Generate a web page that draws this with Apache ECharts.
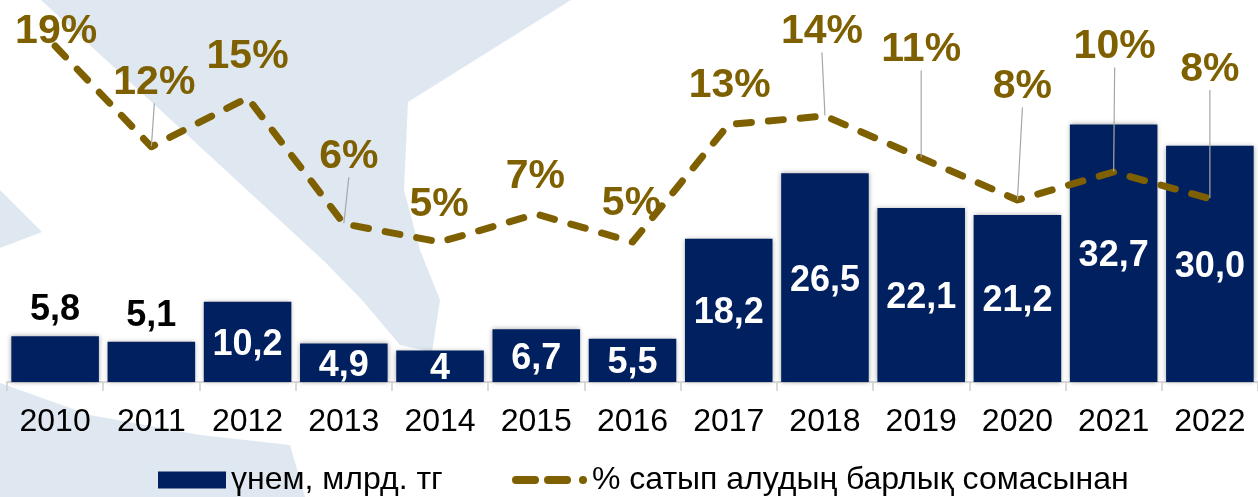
<!DOCTYPE html>
<html>
<head>
<meta charset="utf-8">
<script src="https://cdn.jsdelivr.net/npm/echarts@6/dist/echarts.min.js"></script>
<style>html,body{margin:0;padding:0;background:#fff}#c{width:1258px;height:497px}</style>
</head>
<body>
<div id="c"></div>
<script>
// ---- data ----
const years = ['2010','2011','2012','2013','2014','2015','2016','2017','2018','2019','2020','2021','2022'];
const savings = [5.8, 5.1, 10.2, 4.9, 4, 6.7, 5.5, 18.2, 26.5, 22.1, 21.2, 32.7, 30.0];
const savingsLabels = ['5,8','5,1','10,2','4,9','4','6,7','5,5','18,2','26,5','22,1','21,2','32,7','30,0'];
const sharePct = [19, 11.8, 15.3, 6.3, 5, 7, 5, 13.4, 14, 11, 8, 10, 8.1];
const seriesNames = ['үнем, млрд. тг', '% сатып алудың барлық сомасынан'];

// ---- layout helpers (not data) ----
const outsideBarLabelIdx = [0, 1];
const pctLabelShift = [[1,-14],[3,-64],[0,-41],[5,-67],[-1,-37],[-1,-37],[-1,-38],[1,-39],[-3,-84],[0,-108],[5,-113],[1,-125],[0,-129]];
const pctLeaderIdx = [1, 3, 8, 9, 10, 11, 12];

const FONT = "'Liberation Sans', Arial, sans-serif";
const NAVY = '#002060';
const OLIVE = '#7f6000';
const WM = '#dfe8f1';

const chart = echarts.init(document.getElementById('c'), null, {renderer: 'canvas'});

const barData = savings.map((v, i) => {
  const item = {value: v};
  if (outsideBarLabelIdx.includes(i)) {
    item.label = {position: 'top', color: '#000', distance: 8, offset: [0, 0]};
  }
  return item;
});

const lineData = sharePct.map((v, i) => {
  const item = {value: v};
  if (pctLeaderIdx.includes(i)) {
    item.labelLine = {show: true, lineStyle: {color: '#a6a6a6', width: 1.2}};
  }
  return item;
});

const option = {
  animation: false,
  backgroundColor: '#fff',
  graphic: {
    elements: [
      {type: 'polygon', z: -10, silent: true,
       shape: {points: [[41,0],[571,0],[408,102],[404,190],[420,250],[440,300],[432,352],[400,345],[362,300],[325,262]]},
       style: {fill: WM}},
      {type: 'polygon', z: -10, silent: true,
       shape: {points: [[0,383],[90,415],[200,435],[290,445],[305,497],[0,497]]},
       style: {fill: WM}},
      {type: 'polygon', z: -10, silent: true,
       shape: {points: [[0,190],[42,232],[0,248]]},
       style: {fill: WM}}
    ]
  },
  grid: {left: 7, right: -11, top: 4, bottom: 115, containLabel: false},
  legend: [
    {
      data: [{name: seriesNames[0], icon: 'rect', itemStyle: {color: NAVY, shadowBlur: 0}}],
      left: 153, top: 459, itemWidth: 68, itemHeight: 17, itemGap: 10,
      textStyle: {fontFamily: FONT, fontSize: 32, color: '#000'},
      selectedMode: false
    },
    {
      data: [{name: seriesNames[1],
              icon: 'path://M4,0H23A4,4 0 0 1 23,8H4A4,4 0 0 1 4,0Z M36,0H55A4,4 0 0 1 55,8H36A4,4 0 0 1 36,0Z M71,0A4,4 0 0 1 71,8A4,4 0 0 1 71,0Z',
              itemStyle: {color: OLIVE}}],
      left: 507, top: 459, itemWidth: 75, itemHeight: 8, itemGap: 10,
      textStyle: {fontFamily: FONT, fontSize: 32, color: '#000'},
      selectedMode: false
    }
  ],
  xAxis: {
    type: 'category',
    data: years,
    boundaryGap: true,
    axisLine: {show: true, lineStyle: {color: '#d0d0d0', width: 1.5}},
    axisTick: {show: true, length: 9, lineStyle: {color: '#d0d0d0', width: 1.5}},
    axisLabel: {fontFamily: FONT, fontSize: 32, color: '#000', margin: 24}
  },
  yAxis: [
    {type: 'value', min: 0, max: 48, show: false, splitLine: {show: false}},
    {type: 'value', min: -5, max: 22, show: false, splitLine: {show: false}}
  ],
  series: [
    {
      name: seriesNames[0],
      type: 'bar',
      data: barData,
      barCategoryGap: '9%',
      z: 2,
      itemStyle: {color: NAVY, shadowColor: 'rgba(0,0,0,0.35)', shadowBlur: 5},
      label: {
        show: true, position: 'inside', color: '#fff', offset: [0, 3],
        fontFamily: FONT, fontSize: 36, fontWeight: 'bold',
        formatter: p => savingsLabels[p.dataIndex]
      }
    },
    {
      name: seriesNames[1],
      type: 'line',
      yAxisIndex: 1,
      data: lineData,
      z: 3,
      showSymbol: true,
      symbol: 'circle',
      symbolSize: 1,
      itemStyle: {color: 'rgba(0,0,0,0)'},
      lineStyle: {color: OLIVE, width: 7, type: [15, 17], cap: 'round', join: 'round'},
      label: {
        show: true, position: 'inside', color: OLIVE,
        fontFamily: FONT, fontSize: 41, fontWeight: 'bold',
        formatter: p => Math.round(p.value) + '%'
      },
      labelLayout: p => {
        const s = pctLabelShift[p.dataIndex];
        return {dx: s[0], dy: s[1]};
      }
    }
  ]
};
chart.setOption(option);
</script>
</body>
</html>
